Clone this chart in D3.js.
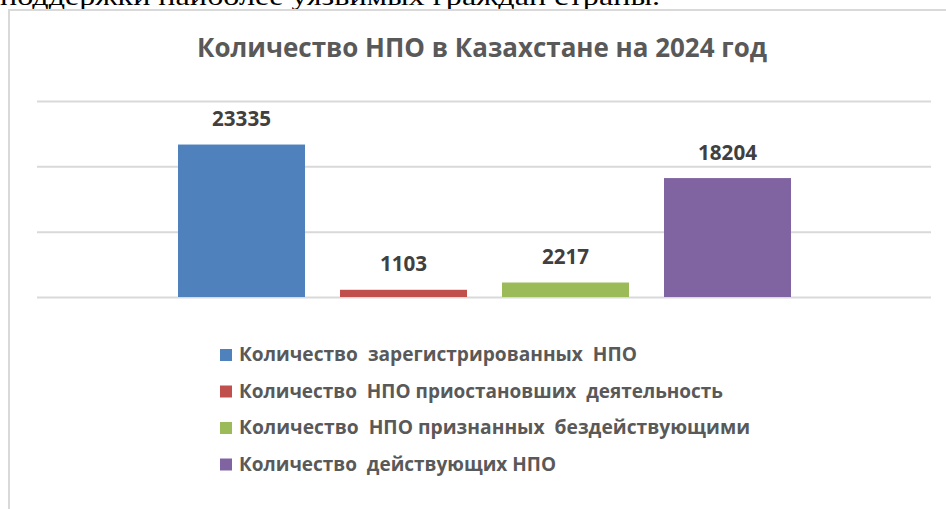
<!DOCTYPE html>
<html>
<head>
<meta charset="utf-8">
<script src="https://cdn.jsdelivr.net/npm/d3@7"></script>
<style>
  html, body { margin: 0; padding: 0; background: #fff; }
  svg { display: block; }
  text { white-space: pre; }
</style>
</head>
<body>
<svg id="chart" width="946" height="509"></svg>
<script>
const title = "Количество НПО в Казахстане на 2024 год";
const aboveText = "поддержки наиболее уязвимых граждан страны.";
const seriesNames = [
  "Количество  зарегистрированных  НПО",
  "Количество  НПО приостановших  деятельность",
  "Количество  НПО признанных  бездействующими",
  "Количество  действующих НПО"
];
const seriesValues = [23335, 1103, 2217, 18204];
const seriesColors = ["#4F81BD", "#C0504D", "#9BBB59", "#8064A2"];
const yTicks = [0, 10000, 20000, 30000];

const svg = d3.select("#chart");

// text of the document above the chart (cut off)
svg.append("text")
  .attr("x", 0).attr("y", 5)
  .attr("font-family", "Liberation Serif, Times New Roman, serif")
  .attr("font-size", 26)
  .attr("fill", "#000")
  .attr("textLength", 660)
  .attr("lengthAdjust", "spacingAndGlyphs")
  .text(aboveText);

// chart frame
svg.append("path")
  .attr("d", "M9,520 L9,10 L960,10")
  .attr("fill", "none")
  .attr("stroke", "#d9d9d9")
  .attr("stroke-width", 2);

// title
svg.append("text")
  .attr("x", 197).attr("y", 57)
  .attr("font-family", "Open Sans, sans-serif")
  .attr("font-weight", "bold")
  .attr("font-size", 26)
  .attr("fill", "#595959")
  .attr("textLength", 570)
  .attr("lengthAdjust", "spacingAndGlyphs")
  .text(title);

const plotLeft = 37, plotRight = 931;
const y = d3.scaleLinear().domain([0, 30000]).range([297, 101]);
const x = d3.scaleBand().domain(seriesNames).range([160.5, 808.5]).paddingInner(0.216).paddingOuter(0.108);

// gridlines
const grid = svg.append("g")
  .attr("transform", `translate(${plotLeft},0)`)
  .call(d3.axisLeft(y).tickValues(yTicks).tickSize(-(plotRight - plotLeft)).tickFormat(""));
grid.select(".domain").remove();
grid.selectAll(".tick line").attr("stroke", "#d9d9d9").attr("stroke-width", 2);

// bars
svg.append("g").selectAll("rect")
  .data(seriesNames)
  .join("rect")
  .attr("x", d => x(d))
  .attr("width", x.bandwidth())
  .attr("y", (d, i) => y(seriesValues[i]))
  .attr("height", (d, i) => y(0) - y(seriesValues[i]))
  .attr("fill", (d, i) => seriesColors[i]);

// value labels
svg.append("g").selectAll("text")
  .data(seriesNames)
  .join("text")
  .attr("x", d => x(d) + x.bandwidth() / 2)
  .attr("y", (d, i) => y(seriesValues[i]) - 18.5)
  .attr("text-anchor", "middle")
  .attr("font-family", "Open Sans, sans-serif")
  .attr("font-weight", "bold")
  .attr("font-size", 21)
  .attr("fill", "#404040")
  .attr("textLength", 59)
  .attr("lengthAdjust", "spacingAndGlyphs")
  .text((d, i) => seriesValues[i])
  .each(function(d, i) {
    const n = String(seriesValues[i]).length;
    d3.select(this).attr("textLength", n * 11.8);
  });

// legend
const legendWidths = [398, 484, 511, 317];
const legend = svg.append("g");
const rows = legend.selectAll("g")
  .data(seriesNames)
  .join("g")
  .attr("transform", (d, i) => `translate(220, ${361 + i * 36.5})`);
rows.append("rect")
  .attr("x", 0).attr("y", -12)
  .attr("width", 12).attr("height", 12)
  .attr("fill", (d, i) => seriesColors[i]);
rows.append("text")
  .attr("x", 19).attr("y", 0)
  .attr("font-family", "Open Sans, sans-serif")
  .attr("font-weight", "bold")
  .attr("font-size", 19)
  .attr("fill", "#595959")
  .attr("textLength", (d, i) => legendWidths[i])
  .attr("lengthAdjust", "spacingAndGlyphs")
  .text(d => d);
</script>
</body>
</html>
